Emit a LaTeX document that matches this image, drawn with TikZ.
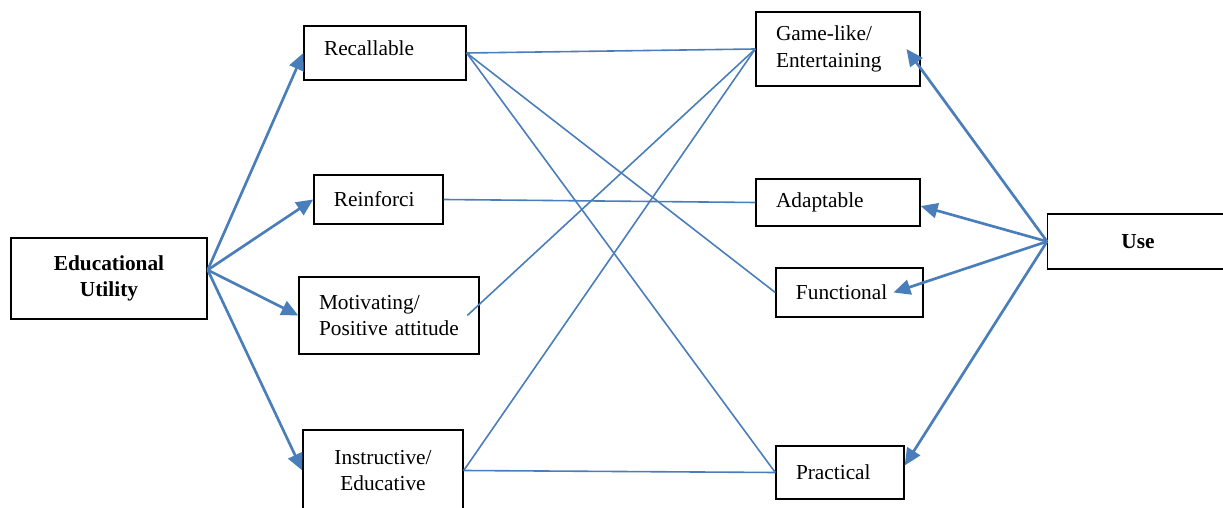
\documentclass[tikz,border=0pt]{standalone}
\usepackage{fontspec}
\setmainfont{Liberation Serif}
\usetikzlibrary{arrows.meta}
\definecolor{lineblue}{HTML}{4A7EBB}

\begin{document}
\begin{tikzpicture}[x=0.5625pt, y=-0.5625pt,
  box/.style={draw, line width=0.8pt, inner sep=0pt, font=\fontsize{12}{15}\selectfont},
  lbox/.style={box, inner xsep=11.25pt, align=left},
  cbox/.style={box, align=center},
  arr/.style={draw=lineblue, line width=1.5pt, -{Triangle[length=9.5pt,width=8.5pt]}},
  link/.style={draw=lineblue, line width=0.9pt}]
\useasboundingbox (0,0) rectangle (1223,508);

\node[cbox, minimum width=110.25pt, minimum height=45.6pt, font=\fontsize{12}{15}\selectfont\bfseries] (eu) at (109,278.5) {Educational\\Utility};
\node[lbox, text width=68.6pt, minimum height=30.4pt, text depth=5.6pt] (rec) at (385,53) {Recallable};
\node[lbox, text width=50.1pt, minimum height=27.6pt] (rei) at (378.5,199.5) {Reinforci};
\node[lbox, text width=78.75pt, minimum height=43.3pt] (mot) at (389,315.5) {Motivating/\\Positive attitude};
\node[cbox, minimum width=90pt, minimum height=45.6pt] (ins) at (383,470.5) {Instructive/\\Educative};

\node[lbox, text width=69.75pt, minimum height=41.6pt] (gam) at (838,49) {Game-like/\\Entertaining};
\node[lbox, text width=69.75pt, minimum height=26.4pt] (ada) at (838,202.5) {Adaptable};
\node[lbox, text width=60.2pt, minimum height=27.6pt] (fun) at (849.5,292.5) {Functional};
\node[lbox, text width=49.5pt, minimum height=29.8pt] (pra) at (840,472.5) {Practical};
\node[cbox, minimum width=160pt, minimum height=30.9pt, font=\fontsize{12}{15}\selectfont\bfseries] (use) at (1190,241.5) {\hspace*{-58.5pt}Use};

\coordinate (euout) at ([yshift=4.8pt]eu.east);
\coordinate (motout) at ([xshift=-7pt]mot.east);

% educational utility to its qualities
\path
(euout) edge[arr] (rec.west)
        edge[arr] (rei.west)
        edge[arr] (mot.west)
        edge[arr] (ins.west)
;
% links between the two sides
\path
(rec.east) edge[link] (gam.west)
           edge[link] (fun.west)
           edge[link] (pra.west)
(rei.east) edge[link] (ada.west)
(motout)   edge[link] (gam.west)
(ins.east) edge[link] (gam.west)
           edge[link] (pra.west)
;
% use to its qualities
\path
(use.west) edge[arr] ([xshift=-8pt]gam.east)
           edge[arr] ([yshift=-2pt]ada.east)
           edge[arr] ([xshift=-17pt]fun.east)
           edge[arr] ([yshift=4pt]pra.east)
;
\end{tikzpicture}
\end{document}
